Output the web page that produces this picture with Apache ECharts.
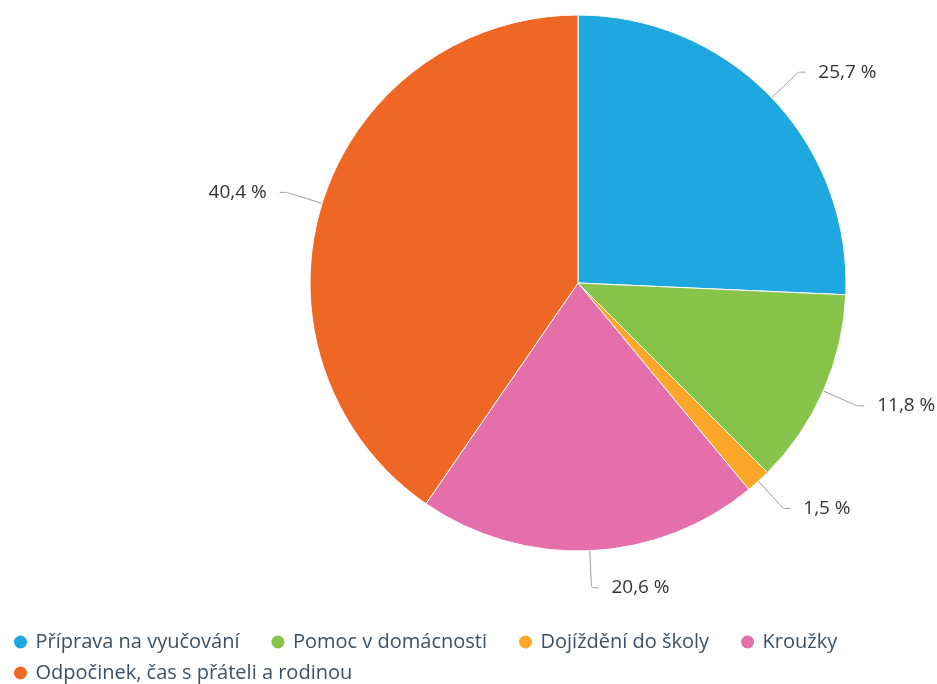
<!DOCTYPE html>
<html>
<head>
<meta charset="utf-8">
<title>pie</title>
<script src="https://cdn.jsdelivr.net/npm/echarts@6/dist/echarts.min.js"></script>
<style>
  html, body { margin: 0; padding: 0; background: #fff; }
  #chart { width: 937px; height: 684px; }
</style>
</head>
<body>
<div id="chart"></div>
<script>
var categories = ['Příprava na vyučování', 'Pomoc v domácnosti', 'Dojíždění do školy', 'Kroužky', 'Odpočinek, čas s přáteli a rodinou'];
var values = [25.7, 11.8, 1.5, 20.6, 40.4];
var colors = ['#1fa8e0', '#88c34a', '#fca62a', '#e46fab', '#ef6724'];

var myChart = echarts.init(document.getElementById('chart'));

// legenda ve dvou radcich
var legendBase = {
  left: 12,
  padding: 0,
  icon: 'circle',
  itemWidth: 20,
  itemHeight: 15,
  itemGap: 30,
  textStyle: { fontSize: 20, color: '#3d5165', fontFamily: 'Open Sans', lineHeight: 24 }
};

var option = {
  animation: false,
  color: colors,
  textStyle: { fontFamily: 'Open Sans' },
  legend: [
    Object.assign({}, legendBase, { top: 630, data: categories.slice(0, 4) }),
    Object.assign({}, legendBase, { top: 661, data: categories.slice(4) })
  ],
  series: [{
    type: 'pie',
    center: [578, 283],
    radius: 268,
    startAngle: 90,
    clockwise: true,
    itemStyle: { borderColor: '#fff', borderWidth: 1 },
    label: {
      formatter: function (p) { return String(p.value).replace('.', ',') + ' %'; },
      fontSize: 19,
      color: '#333',
      fontFamily: 'Open Sans',
      overflow: 'none',
      padding: [9, 0, 0, 0],
      distanceToLabelLine: 13
    },
    labelLine: {
      length: 37,
      length2: 7,
      smooth: 0.15,
      lineStyle: { color: '#999', width: 1 }
    },
    data: categories.map(function (c, i) { return { name: c, value: values[i] }; })
  }]
};

myChart.setOption(option);
</script>
</body>
</html>
